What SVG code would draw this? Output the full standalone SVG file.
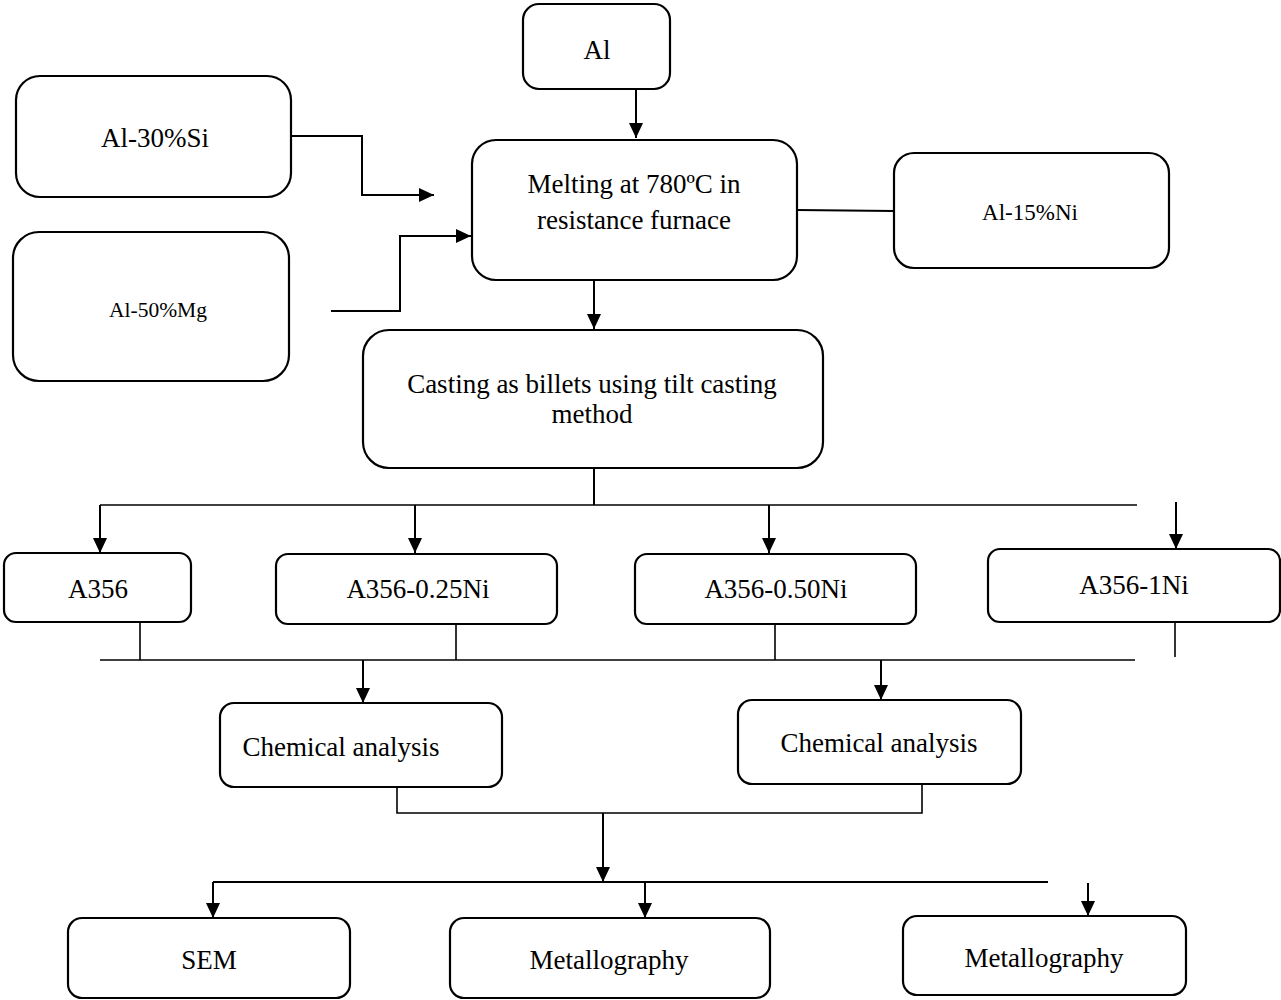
<svg xmlns="http://www.w3.org/2000/svg" width="1281" height="1000" viewBox="0 0 1281 1000">
<defs>
<style>
.box{fill:#fff;stroke:#000;stroke-width:2.2}
.t{font-family:"Liberation Serif","Times New Roman",serif;font-size:27px;fill:#000;text-anchor:middle}
.s{font-size:23px}
.m{font-size:21.5px}
.c{fill:none;stroke:#000;stroke-width:2}
.th{fill:none;stroke:#000;stroke-width:1.6}
</style>
<marker id="ah" markerUnits="userSpaceOnUse" markerWidth="16" markerHeight="16" refX="15" refY="7" orient="auto" viewBox="0 0 16 14">
<path d="M0,0 L15,7 L0,14 Z" fill="#000"/>
</marker>
</defs>
<rect width="1281" height="1000" fill="#fff"/>
<g id="connectors">
<path class="c" d="M636,89 V138" marker-end="url(#ah)"/>
<path class="c" d="M291,136 H362 V195 H434" marker-end="url(#ah)"/>
<path class="c" d="M331,311 H400 V236 H471" marker-end="url(#ah)"/>
<path class="c" d="M797,210 L894,211"/>
<path class="c" d="M594,280 V329" marker-end="url(#ah)"/>
<path class="c" d="M594,468 V505"/>
<path class="th" d="M100,505 H1137"/>
<path class="c" d="M100,505 V553" marker-end="url(#ah)"/>
<path class="c" d="M415,505 V553" marker-end="url(#ah)"/>
<path class="c" d="M769,505 V553" marker-end="url(#ah)"/>
<path class="c" d="M1176,502 V549" marker-end="url(#ah)"/>
<path class="th" d="M140,622 V660 M456,624 V660 M775,624 V660 M1175,622 V657"/>
<path class="th" d="M100,660 H1135"/>
<path class="c" d="M363,660 V703" marker-end="url(#ah)"/>
<path class="c" d="M881,660 V700" marker-end="url(#ah)"/>
<path class="th" d="M397,787 V813 H922 V784"/>
<path class="c" d="M603,813 V882" marker-end="url(#ah)"/>
<path class="c" d="M213,882 H1048"/>
<path class="c" d="M213,882 V918" marker-end="url(#ah)"/>
<path class="c" d="M645,882 V918" marker-end="url(#ah)"/>
<path class="c" d="M1088,883 V916" marker-end="url(#ah)"/>
</g>
<g id="node-al"><rect class="box" x="523" y="4" width="147" height="85" rx="16"/><text class="t" x="597" y="59">Al</text></g>
<g id="node-alsi"><rect class="box" x="16" y="76" width="275" height="121" rx="24"/><text class="t" x="155" y="147">Al-30%Si</text></g>
<g id="node-melting"><rect class="box" x="472" y="140" width="325" height="140" rx="24"/><text class="t" x="634" y="193">Melting at 780ºC in</text><text class="t" x="634" y="229">resistance furnace</text></g>
<g id="node-alni"><rect class="box" x="894" y="153" width="275" height="115" rx="20"/><text class="t s" x="1030" y="220">Al-15%Ni</text></g>
<g id="node-almg"><rect class="box" x="13" y="232" width="276" height="149" rx="26"/><text class="t m" x="158" y="317">Al-50%Mg</text></g>
<g id="node-casting"><rect class="box" x="363" y="330" width="460" height="138" rx="26"/><text class="t" x="592" y="393">Casting as billets using tilt casting</text><text class="t" x="592" y="423">method</text></g>
<g id="node-a356"><rect class="box" x="4" y="553" width="187" height="69" rx="12"/><text class="t" x="98" y="598">A356</text></g>
<g id="node-a356-025"><rect class="box" x="276" y="554" width="281" height="70" rx="12"/><text class="t" x="418" y="598">A356-0.25Ni</text></g>
<g id="node-a356-050"><rect class="box" x="635" y="554" width="281" height="70" rx="12"/><text class="t" x="776" y="598">A356-0.50Ni</text></g>
<g id="node-a356-1"><rect class="box" x="988" y="549" width="292" height="73" rx="12"/><text class="t" x="1134" y="594">A356-1Ni</text></g>
<g id="node-chem1"><rect class="box" x="220" y="703" width="282" height="84" rx="14"/><text class="t" x="341" y="756">Chemical analysis</text></g>
<g id="node-chem2"><rect class="box" x="738" y="700" width="283" height="84" rx="14"/><text class="t" x="879" y="752">Chemical analysis</text></g>
<g id="node-sem"><rect class="box" x="68" y="918" width="282" height="80" rx="14"/><text class="t" x="209" y="969">SEM</text></g>
<g id="node-metal1"><rect class="box" x="450" y="918" width="320" height="80" rx="14"/><text class="t" x="609" y="969">Metallography</text></g>
<g id="node-metal2"><rect class="box" x="903" y="916" width="283" height="79" rx="14"/><text class="t" x="1044" y="967">Metallography</text></g>
</svg>
